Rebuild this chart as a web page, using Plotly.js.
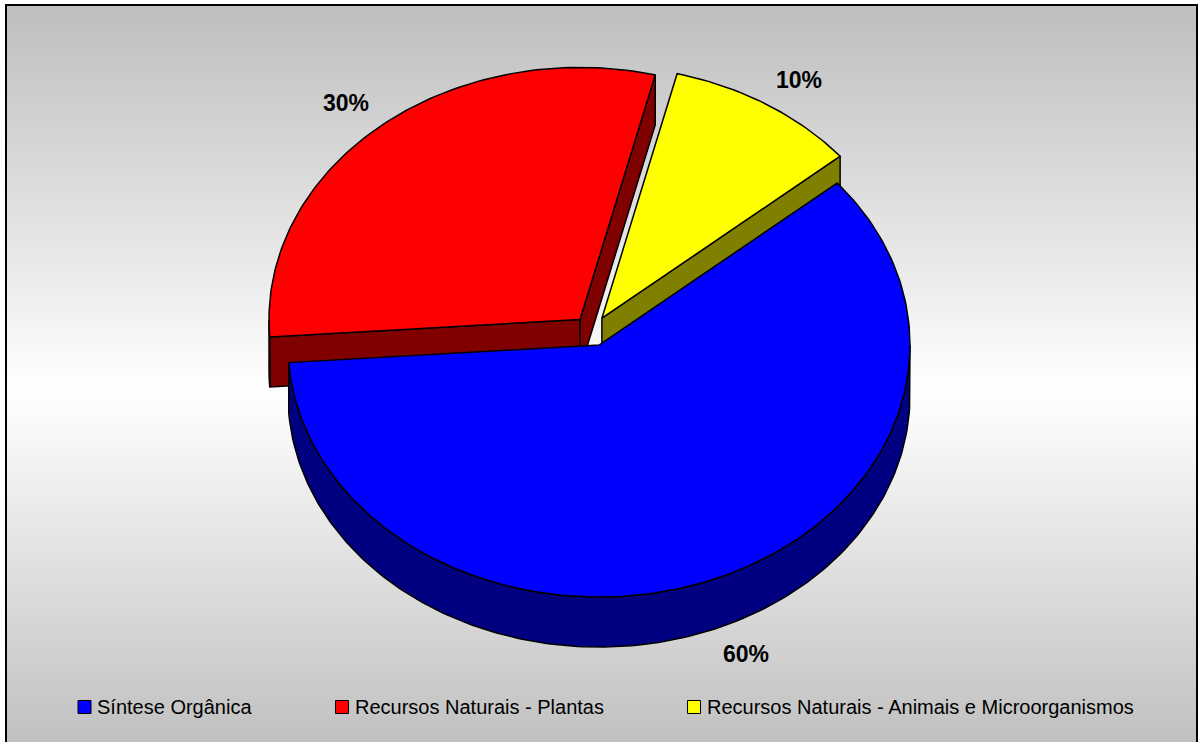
<!DOCTYPE html>
<html>
<head>
<meta charset="utf-8">
<script src="https://cdn.plot.ly/plotly-3.0.1.min.js"></script>
<style>
  html, body { margin: 0; padding: 0; background: #ffffff; overflow: hidden; }
  #wrap { position: relative; width: 1199px; height: 742px; overflow: hidden; }
  #panel {
    position: absolute; left: 5px; top: 4px; width: 1193px; height: 760px;
    box-sizing: border-box; border: 2px solid #000000;
    background: linear-gradient(to bottom, #bebebe 0px, #ffffff 385px, #bfbfbf 745px);
  }
  #chart { position: absolute; left: 0; top: 0; width: 1199px; height: 742px; }
</style>
</head>
<body>
<div id="wrap"><div id="panel"></div><div id="chart"></div></div>
<script>
// ---- data ----
const categories = [
  'Síntese Orgânica',
  'Recursos Naturais - Plantas',
  'Recursos Naturais - Animais e Microorganismos'
];
const shares = [60, 30, 10];
const topColors = ['#0000ff', '#ff0000', '#ffff00'];
const sideColors = ['#000080', '#800000', '#808000'];

// ---- 3-D pie geometry (pixel space) ----
const W = 1199, H = 742;
const CX = 592, CY = 331;      // pie centre before explosion
const RX = 311, RY = 252;      // ellipse radii of the top surface
const DEPTH = 50;              // thickness of the pie
const EXPLODE = 0.06;          // radial offset of every slice
const FIRST_ANGLE = 40;        // first slice starts here, clockwise
const rad = d => d * Math.PI / 180;

const total = shares.reduce((a, b) => a + b, 0);
let cursor = FIRST_ANGLE;
const slices = shares.map((v, i) => {
  const span = 360 * v / total;
  const hi = cursor, lo = cursor - span;
  cursor = lo;
  const mid = (hi + lo) / 2;
  return {
    i, lo, hi, mid,
    cx: CX + EXPLODE * RX * Math.cos(rad(mid)),
    cy: CY - EXPLODE * RY * Math.sin(rad(mid))
  };
});

function pt(s, t, dz) {
  return [s.cx + RX * Math.cos(rad(t)), s.cy - RY * Math.sin(rad(t)) + (dz || 0)];
}
function arc(s, a, b, dz) {
  const n = Math.max(2, Math.ceil(Math.abs(b - a)));
  const out = [];
  for (let k = 0; k <= n; k++) out.push(pt(s, a + (b - a) * k / n, dz));
  return out;
}
function polygon(points, fill) {
  const xs = points.map(p => p[0]), ys = points.map(p => p[1]);
  xs.push(xs[0]); ys.push(ys[0]);
  return {
    type: 'scatter', mode: 'lines', x: xs, y: ys,
    fill: 'toself', fillcolor: fill,
    line: { color: '#000000', width: 1.5 },
    hoverinfo: 'skip', showlegend: false
  };
}

// back slices first, front slices last
const order = slices.slice().sort((a, b) => Math.sin(rad(b.mid)) - Math.sin(rad(a.mid)));
const traces = [];
order.forEach(s => {
  const apex = [s.cx, s.cy];
  const apexLow = [s.cx, s.cy + DEPTH];
  // cut faces that turn toward the viewer
  if (Math.cos(rad(s.lo)) > 0) {
    traces.push(polygon([apex, pt(s, s.lo), pt(s, s.lo, DEPTH), apexLow], sideColors[s.i]));
  }
  if (Math.cos(rad(s.hi)) < 0) {
    traces.push(polygon([apex, pt(s, s.hi), pt(s, s.hi, DEPTH), apexLow], sideColors[s.i]));
  }
  // outer wall on the front half
  for (let k = -2; k <= 2; k++) {
    const a = Math.max(s.lo, 180 + 360 * k), b = Math.min(s.hi, 360 + 360 * k);
    if (b > a) {
      const upper = arc(s, a, b, 0);
      const lower = arc(s, b, a, DEPTH);
      traces.push(polygon(upper.concat(lower), sideColors[s.i]));
    }
  }
  // top surface
  traces.push(polygon([apex].concat(arc(s, s.hi, s.lo, 0)), topColors[s.i]));
});

// percentage labels just outside each slice
const annotations = [];
const LABEL_R = 1.045;
slices.forEach(s => {
  const c = Math.cos(rad(s.mid)), sn = Math.sin(rad(s.mid));
  const x = s.cx + LABEL_R * RX * c;
  const y = s.cy - LABEL_R * RY * sn + (sn < 0 ? DEPTH : 0);
  annotations.push({
    x, y, xref: 'x', yref: 'y', showarrow: false,
    text: '<b>' + Math.round(100 * shares[s.i] / total) + '%</b>',
    font: { family: 'Liberation Sans, Arial, sans-serif', size: 23, color: '#000000' },
    xanchor: c >= 0 ? 'left' : 'right',
    yanchor: sn >= 0 ? 'bottom' : 'top'
  });
});

// legend row along the bottom
const LEG_FONT = 20, LEG_Y = 707, SW = 13;
const ctx = document.createElement('canvas').getContext('2d');
ctx.font = LEG_FONT + 'px "Liberation Sans"';
const shapes = [];
let lx = 78;
categories.forEach((name, i) => {
  shapes.push({
    type: 'rect', xref: 'x', yref: 'y',
    x0: lx, x1: lx + SW, y0: LEG_Y - SW / 2, y1: LEG_Y + SW / 2,
    fillcolor: topColors[i], line: { color: '#000000', width: 1 }
  });
  const tx = lx + SW + 4;
  annotations.push({
    x: tx, y: LEG_Y, xref: 'x', yref: 'y', showarrow: false,
    text: name, xanchor: 'left', yanchor: 'middle',
    font: { family: 'Liberation Sans, Arial, sans-serif', size: LEG_FONT, color: '#000000' }
  });
  lx = tx + ctx.measureText(name).width + 86;
});

const layout = {
  width: W, height: H,
  margin: { l: 0, r: 0, t: 0, b: 0 },
  paper_bgcolor: 'rgba(0,0,0,0)', plot_bgcolor: 'rgba(0,0,0,0)',
  xaxis: { range: [0, W], visible: false, fixedrange: true },
  yaxis: { range: [H, 0], visible: false, fixedrange: true },
  showlegend: false,
  shapes, annotations
};

Plotly.newPlot('chart', traces, layout, { displayModeBar: false, staticPlot: true });
</script>
</body>
</html>
